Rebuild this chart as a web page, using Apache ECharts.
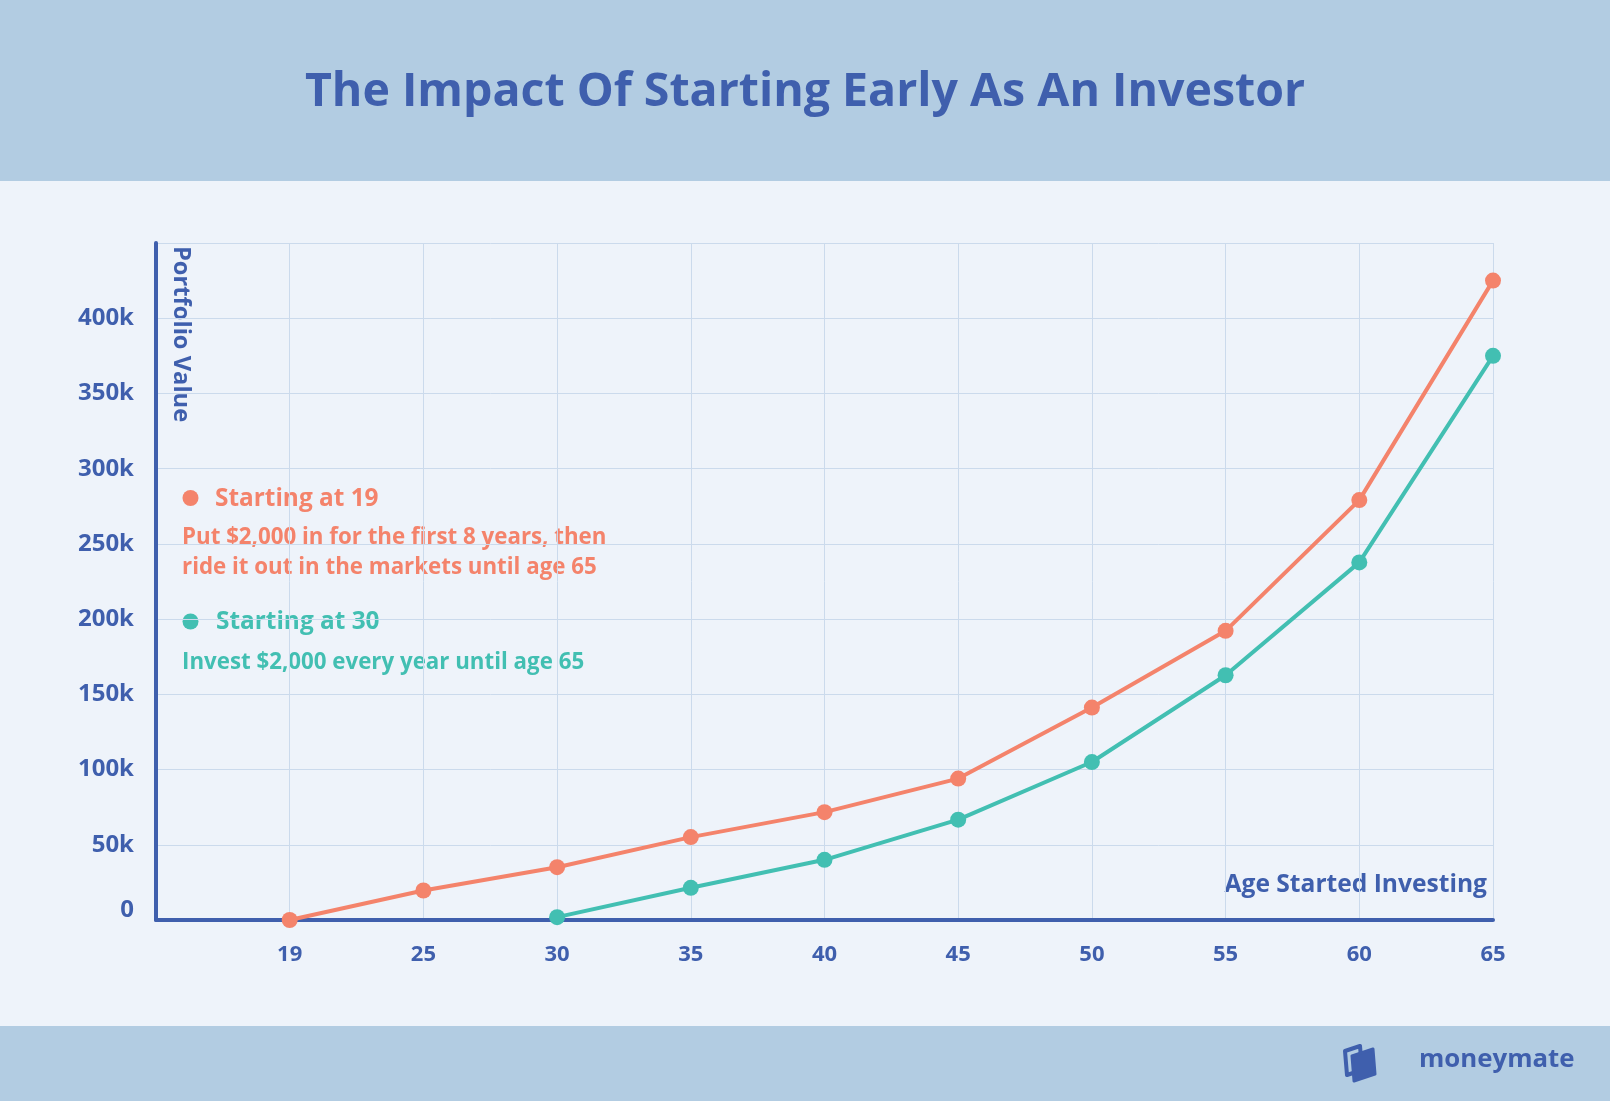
<!DOCTYPE html>
<html>
<head>
<meta charset="utf-8">
<script src="https://cdn.jsdelivr.net/npm/echarts@6/dist/echarts.min.js"></script>
<style>
html,body{margin:0;padding:0;background:#eef3fa;}
#chart{width:1610px;height:1101px;}
</style>
</head>
<body>
<div id="chart"></div>
<script>
// ---- data ----
var ages = ['19', '25', '30', '35', '40', '45', '50', '55', '60', '65'];
var startAt19 = [0, 19600, 35100, 55100, 71700, 94000, 141200, 192200, 279100, 425000];
var startAt30 = [null, null, 1900, 21400, 40000, 66700, 105000, 162700, 237700, 375000];
var yTicks = [0, 50000, 100000, 150000, 200000, 250000, 300000, 350000, 400000];

var titleText = 'The Impact Of Starting Early As An Investor';
var series1Name = 'Starting at 19';
var series1Desc = ['Put $2,000 in for the first 8 years, then', 'ride it out in the markets until age 65'];
var series2Name = 'Starting at 30';
var series2Desc = 'Invest $2,000 every year until age 65';
var yName = 'Portfolio Value';
var xName = 'Age Started Investing';
var brand = 'moneymate';

var BLUE = '#3f5fad', ORANGE = '#f4836b', TEAL = '#42bfb2', GRIDC = '#cbdaec';
var FONT = '"Open Sans", "Noto Sans", sans-serif';

var categories = [''].concat(ages);
var s1 = [null].concat(startAt19);
var s2 = [null].concat(startAt30);

var chart = echarts.init(document.getElementById('chart'));
chart.setOption({
  backgroundColor: '#eef3fa',
  animation: false,
  grid: { left: 156, right: 117, top: 243, bottom: 181 },
  xAxis: {
    type: 'category',
    data: categories,
    boundaryGap: false,
    axisLine: { show: true, lineStyle: { color: BLUE, width: 4, cap: 'round' } },
    axisTick: { show: false },
    axisLabel: { color: BLUE, fontSize: 22, fontWeight: 'bold', fontFamily: FONT, margin: 24 },
    splitLine: { show: true, lineStyle: { color: GRIDC, width: 1 } }
  },
  yAxis: {
    type: 'value',
    min: 0, max: 450000, interval: 50000,
    axisLine: { show: true, lineStyle: { color: BLUE, width: 4, cap: 'round' } },
    axisTick: { show: false },
    axisLabel: {
      color: BLUE, fontSize: 24, fontWeight: 'bold', fontFamily: FONT, margin: 22,
      formatter: function (v) {
        if (yTicks.indexOf(v) < 0) return '';
        return v === 0 ? '{zero|0}' : (v / 1000) + 'k';
      },
      rich: {
        zero: { color: BLUE, fontSize: 24, fontWeight: 'bold', fontFamily: FONT, padding: [0, 0, 20, 0] }
      }
    },
    splitLine: { show: true, lineStyle: { color: GRIDC, width: 1 } }
  },
  series: [
    {
      name: series1Name, type: 'line', data: s1,
      symbol: 'circle', symbolSize: 16,
      lineStyle: { color: ORANGE, width: 4 },
      itemStyle: { color: ORANGE },
      z: 3
    },
    {
      name: series2Name, type: 'line', data: s2,
      symbol: 'circle', symbolSize: 16,
      lineStyle: { color: TEAL, width: 4 },
      itemStyle: { color: TEAL },
      z: 4
    }
  ],
  graphic: [
    { type: 'rect', left: 0, top: 0, shape: { width: 1610, height: 181 }, style: { fill: '#b2cce2' }, z: -10 },
    { type: 'rect', left: 0, top: 1026, shape: { width: 1610, height: 75 }, style: { fill: '#b2cce2' }, z: -10 },
    { type: 'text', x: 805, y: 93, style: { text: titleText, fill: BLUE, font: 'bold 46.5px ' + FONT, textAlign: 'center', textVerticalAlign: 'middle' } },
    { type: 'text', x: 181, y: 246, rotation: -Math.PI / 2, style: { text: yName, fill: BLUE, font: 'bold 23.7px ' + FONT, textAlign: 'left', textVerticalAlign: 'middle' } },
    { type: 'text', x: 1487, y: 885, style: { text: xName, fill: BLUE, font: 'bold 24.6px ' + FONT, textAlign: 'right', textVerticalAlign: 'middle' } },
    { type: 'circle', shape: { cx: 190.5, cy: 498, r: 8 }, style: { fill: ORANGE } },
    { type: 'text', x: 215, y: 499, style: { text: series1Name, fill: ORANGE, font: 'bold 24.4px ' + FONT, textAlign: 'left', textVerticalAlign: 'middle' } },
    { type: 'text', x: 182, y: 538, style: { text: series1Desc[0], fill: ORANGE, font: 'bold 22.3px ' + FONT, textAlign: 'left', textVerticalAlign: 'middle' } },
    { type: 'text', x: 182, y: 568, style: { text: series1Desc[1], fill: ORANGE, font: 'bold 22.3px ' + FONT, textAlign: 'left', textVerticalAlign: 'middle' } },
    { type: 'circle', shape: { cx: 190.5, cy: 621.5, r: 8 }, style: { fill: TEAL } },
    { type: 'text', x: 216, y: 622, style: { text: series2Name, fill: TEAL, font: 'bold 24.4px ' + FONT, textAlign: 'left', textVerticalAlign: 'middle' } },
    { type: 'text', x: 182, y: 663, style: { text: series2Desc, fill: TEAL, font: 'bold 22.3px ' + FONT, textAlign: 'left', textVerticalAlign: 'middle' } },
    { type: 'polygon', shape: { points: [[1345, 1051], [1360, 1046], [1362, 1070], [1347, 1075]] }, style: { fill: 'none', stroke: BLUE, lineWidth: 4, lineJoin: 'round' } },
    { type: 'polygon', shape: { points: [[1352, 1056], [1373, 1049], [1375, 1074], [1354, 1081]] }, style: { fill: BLUE, stroke: BLUE, lineWidth: 3, lineJoin: 'round' } },
    { type: 'text', x: 1419, y: 1060, style: { text: brand, fill: BLUE, font: 'bold 25.8px ' + FONT, textAlign: 'left', textVerticalAlign: 'middle' } }
  ]
});
</script>
</body>
</html>
